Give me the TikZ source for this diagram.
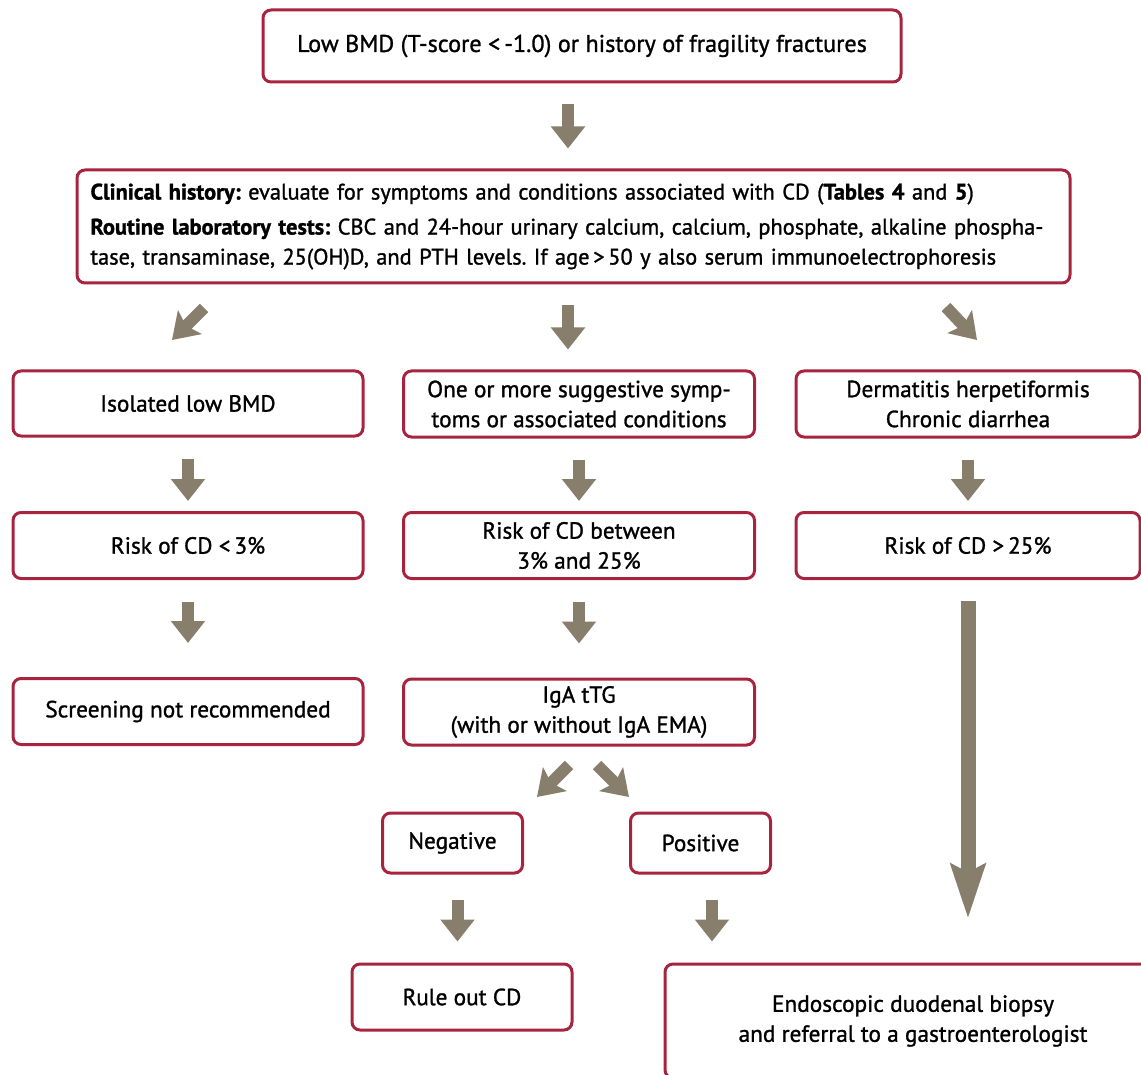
\documentclass[tikz,border=0pt]{standalone}
\usepackage{fontspec}
\setmainfont{PT Sans}
\newfontfamily\boxface{PT Sans}[FakeBold=1.2]
\usetikzlibrary{arrows.meta}
\definecolor{boxred}{RGB}{168,36,62}
\definecolor{arrowgray}{RGB}{135,126,108}
\newcommand{\boxfont}{\boxface\fontsize{23.3}{30}\selectfont}
\newcommand{\clinfont}{\boxface\fontsize{22.4}{30}\selectfont}
\frenchspacing
\begin{document}
\begin{tikzpicture}[x=1pt,y=-1pt,
		box/.style={draw=boxred, line width=3pt, rounded corners=8pt, align=center, inner sep=0pt, text=black, font=\boxfont},
		blockarr/.style={draw=arrowgray, line width=12pt, -{Triangle[width=33pt,length=22pt]}},
		diagarr/.style={draw=arrowgray, line width=12pt, -{Stealth[width=33pt,length=25pt,inset=5pt]}},
		longarr/.style={draw=arrowgray, line width=15pt, -{Stealth[width=34pt,length=54pt,inset=8pt]}}]
		%Page frame
		\useasboundingbox (0,0) rectangle (1141,1075);
		\clip (0,0) rectangle (1141,1075);
		%Top box
		\node [box, minimum width=638pt, minimum height=72pt, font=\boxface\fontsize{24.2}{30}\selectfont] (low) at (582,46) {Low BMD (T-score <\,-1.0) or history of fragility fractures};
		%Work-up box
		\node [box, minimum width=993pt, minimum height=113pt, text width=966pt, align=left, font=\clinfont] (clin) at (573.5,226.5) {\textbf{Clinical history:} evaluate for symptoms and conditions associated with CD (\textbf{Tables 4} and \textbf{5})\\[5pt]
		\makebox[966pt][s]{\textbf{Routine laboratory tests:} CBC and 24-hour urinary calcium, calcium, phosphate, alkaline phospha-}\\
		tase, transaminase, 25(OH)D, and PTH levels. If age\,>\,50 y also serum immunoelectrophoresis};
		%First row
		\node [box, minimum width=350pt, minimum height=65pt] (iso) at (188,403.5) {Isolated low BMD};
		\node [box, minimum width=351pt, minimum height=66pt] (symp) at (579,404) {One or more suggestive symp-\\toms or associated conditions};
		\node [box, minimum width=344pt, minimum height=66pt] (derm) at (968,404) {Dermatitis herpetiformis\\Chronic diarrhea};
		%Second row
		\node [box, minimum width=350pt, minimum height=66pt] (risklow) at (188,545.5) {Risk of CD <\,3\%};
		\node [box, minimum width=351pt, minimum height=66pt] (riskmid) at (579,545.5) {Risk of CD between\\3\% and 25\%};
		\node [box, minimum width=344pt, minimum height=66pt] (riskhigh) at (968,545.5) {Risk of CD >\,25\%};
		%Third row
		\node [box, minimum width=350pt, minimum height=66pt] (noscreen) at (188,711.5) {Screening not recommended};
		\node [box, minimum width=351pt, minimum height=66pt] (igatg) at (579,712) {IgA tTG\\(with or without IgA EMA)};
		%Serology result
		\node [box, minimum width=140pt, minimum height=60pt] (neg) at (452.5,843) {Negative};
		\node [box, minimum width=140pt, minimum height=60pt] (pos) at (700.5,843) {Positive};
		%Bottom row
		\node [box, minimum width=220pt, minimum height=66pt] (ruleout) at (462,997) {Rule out CD};
		\node [box, minimum width=496pt, minimum height=114pt] (endo) at (913,1021) {Endoscopic duodenal biopsy\\and referral to a gastroenterologist};
		%Arrows down the middle
		\draw [blockarr, shorten <=21pt, shorten >=20pt] ([xshift=-14pt]low.south) -- ([xshift=-5.5pt]clin.north);
		\draw [blockarr, shorten <=21pt, shorten >=20pt] ([xshift=-5.5pt]clin.south) -- ([xshift=-11pt]symp.north);
		%Diagonal arrows under the work-up box
		\coordinate (dl0) at (204,308);
		\coordinate (dl1) at (172,340);
		\coordinate (dr0) at (946,307);
		\coordinate (dr1) at (977,340);
		\draw [diagarr] (dl0) -- (dl1);
		\draw [diagarr] (dr0) -- (dr1);
		%Row one to row two
		\draw [blockarr, shorten <=21pt, shorten >=10pt] (iso.south) -- (risklow.north);
		\draw [blockarr, shorten <=21pt, shorten >=10pt] (symp.south) -- (riskmid.north);
		\draw [blockarr, shorten <=21pt, shorten >=10pt] (derm.south) -- (riskhigh.north);
		%Row two to row three
		\draw [blockarr, shorten <=22pt, shorten >=34pt] (risklow.south) -- (noscreen.north);
		\draw [blockarr, shorten <=22pt, shorten >=34pt] (riskmid.south) -- (igatg.north);
		\draw [longarr, shorten <=21pt, shorten >=44pt] (riskhigh.south) -- (riskhigh.south |- endo.north);
		%Split after serology
		\coordinate (sl0) at (569,765);
		\coordinate (sl1) at (537,797);
		\coordinate (sr0) at (597,765);
		\coordinate (sr1) at (629,797);
		\draw [diagarr] (sl0) -- (sl1);
		\draw [diagarr] (sr0) -- (sr1);
		%Result to outcome
		\draw [blockarr, shorten <=25pt, shorten >=21pt] ([xshift=5pt]neg.south) -- ([xshift=5pt]neg.south |- ruleout.north);
		\draw [blockarr, shorten <=25pt, shorten >=21pt] ([xshift=11.5pt]pos.south) -- ([xshift=11.5pt]pos.south |- endo.north);
\end{tikzpicture}
\end{document}
